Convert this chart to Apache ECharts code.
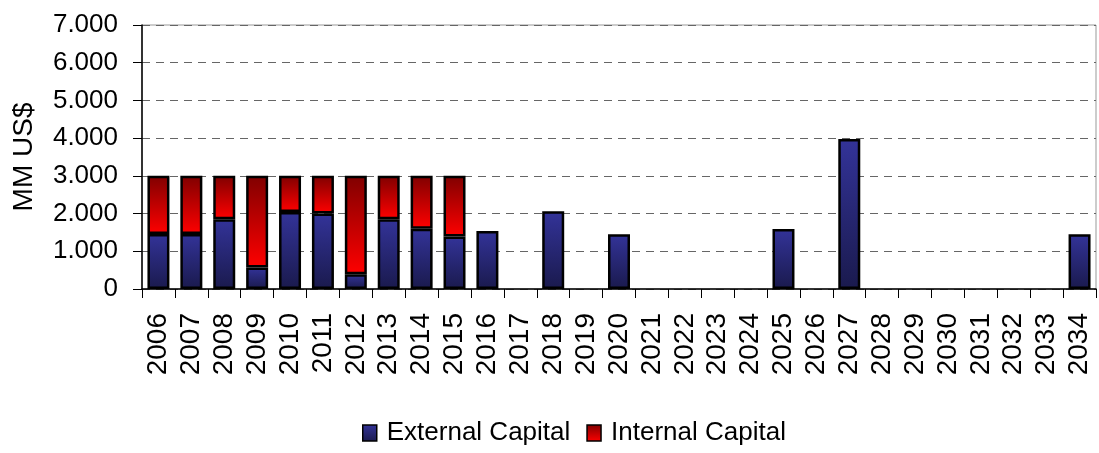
<!DOCTYPE html>
<html>
<head>
<meta charset="utf-8">
<script src="https://cdn.jsdelivr.net/npm/echarts@6/dist/echarts.min.js"></script>
<style>html,body{margin:0;padding:0;background:#fff}#c{width:1099px;height:453px}</style>
</head>
<body>
<div id="c"></div>
<script>
const years = ['2006','2007','2008','2009','2010','2011','2012','2013','2014','2015','2016','2017','2018','2019','2020','2021','2022','2023','2024','2025','2026','2027','2028','2029','2030','2031','2032','2033','2034'];
const externalCapital = [1460,1460,1850,570,2040,2000,390,1850,1600,1390,1540,null,2060,null,1450,null,null,null,null,1590,null,3980,null,null,null,null,null,null,1450];
const internalCapital = [1540,1540,1150,2430,960,1000,2610,1150,1400,1610,null,null,null,null,null,null,null,null,null,null,null,null,null,null,null,null,null,null,null];
const yTicks = [0,1000,2000,3000,4000,5000,6000,7000];

const FONT = 'Liberation Sans, Arial, sans-serif';
const chart = echarts.init(document.getElementById('c'));
const blueGrad = new echarts.graphic.LinearGradient(0,0,0,1,[{offset:0,color:'#333399'},{offset:1,color:'#1a1a4d'}]);
const redGrad = new echarts.graphic.LinearGradient(0,0,0,1,[{offset:0,color:'#800000'},{offset:1,color:'#ff0000'}]);
chart.setOption({
  animation:false,
  grid:{left:142,right:3,top:25,bottom:164,show:true,borderColor:'#999',borderWidth:1},
  legend:{
    bottom:2,left:357,itemWidth:14,itemHeight:16,itemGap:16,icon:'rect',
    textStyle:{fontFamily:FONT,fontSize:26,color:'#000',padding:[0,0,0,5]},
    itemStyle:{borderColor:'#000',borderWidth:1.5},
    data:['External Capital','Internal Capital']
  },
  xAxis:{
    type:'category',data:years,
    axisLine:{lineStyle:{color:'#000',width:1.5}},
    axisTick:{show:true,length:9,lineStyle:{color:'#000'}},
    axisLabel:{rotate:90,margin:24,interval:0,fontFamily:FONT,fontSize:28,color:'#000'}
  },
  yAxis:{
    type:'value',min:0,max:7000,interval:1000,
    name:'MM US$',nameLocation:'middle',nameGap:104,nameRotate:90,
    nameTextStyle:{fontFamily:FONT,fontSize:28,color:'#000'},
    axisLine:{show:true,lineStyle:{color:'#000',width:1.5}},
    axisTick:{show:true,length:9,lineStyle:{color:'#000'}},
    axisLabel:{margin:24,fontFamily:FONT,fontSize:26,color:'#000',
      formatter:v=>v===0?'0':(v/1000)+'.000'},
    splitLine:{show:true,lineStyle:{color:'#666',type:[8,6],width:1}}
  },
  series:[
    {name:'External Capital',type:'bar',stack:'a',data:externalCapital,barWidth:22,
      itemStyle:{color:blueGrad,borderColor:'#000',borderWidth:2.5}},
    {name:'Internal Capital',type:'bar',stack:'a',data:internalCapital,barWidth:22,
      itemStyle:{color:redGrad,borderColor:'#000',borderWidth:2.5}}
  ]
});
</script>
</body>
</html>
